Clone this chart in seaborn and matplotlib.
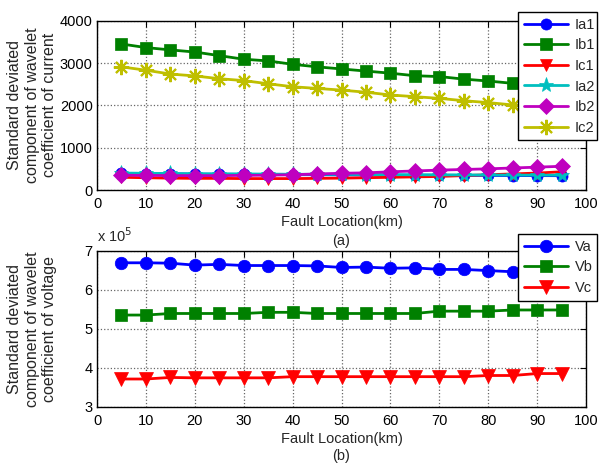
import numpy as np
import pandas as pd
import matplotlib
matplotlib.use("Agg")
import matplotlib.pyplot as plt
import seaborn as sns
from matplotlib.ticker import FuncFormatter

sns.set_theme(style="white")
plt.rcParams['font.family'] = ['Liberation Sans', 'DejaVu Sans']

# ---- data ----
location = [5, 10, 15, 20, 25, 30, 35, 40, 45, 50, 55, 60, 65, 70, 75, 80, 85, 90, 95]

Ia1 = [390, 385, 380, 375, 372, 370, 365, 362, 360, 358, 355, 352, 350, 348, 346, 344, 342, 340, 338]
Ib1 = [3450, 3365, 3310, 3260, 3175, 3090, 3050, 2970, 2910, 2860, 2810, 2760, 2700, 2680, 2620, 2575, 2520, 2480, 2440]
Ic1 = [300, 290, 280, 275, 275, 270, 270, 270, 275, 280, 290, 300, 310, 320, 340, 360, 380, 400, 430]
Ia2 = [400, 395, 390, 385, 382, 380, 376, 372, 370, 368, 365, 362, 360, 358, 356, 354, 352, 350, 350]
Ib2 = [350, 345, 340, 340, 340, 345, 350, 360, 380, 395, 405, 430, 450, 470, 485, 500, 520, 540, 560]
Ic2 = [2910, 2830, 2740, 2695, 2630, 2585, 2510, 2440, 2400, 2360, 2310, 2245, 2205, 2165, 2110, 2065, 2010, 1965, 1920]

Va = [669000, 669000, 668000, 663000, 665000, 662000, 662000, 662000, 661000, 657000, 658000, 655000, 656000, 652000, 652000, 649000, 646000, 644000, 642000]
Vb = [535000, 535000, 539000, 539000, 539000, 539000, 542000, 542000, 539000, 539000, 539000, 539000, 539000, 545000, 545000, 545000, 548000, 548000, 548000]
Vc = [371000, 371000, 375000, 374000, 374000, 374000, 374000, 377000, 377000, 377000, 377000, 377000, 377000, 377000, 377000, 380000, 380000, 385000, 385000]

current_labels = ["Ia1", "Ib1", "Ic1", "Ia2", "Ib2", "Ic2"]
voltage_labels = ["Va", "Vb", "Vc"]
top_xticklabels = ["0", "10", "20", "30", "40", "50", "60", "70", "8", "90", "100"]
bottom_xticklabels = ["0", "10", "20", "30", "40", "50", "60", "70", "80", "90", "100"]

# ---- styles ----
blue = (0, 0, 1)
green = (0, 0.5, 0)
red = (1, 0, 0)
cyan = (0, 0.75, 0.75)
magenta = (0.75, 0, 0.75)
olive = (0.75, 0.75, 0)
asterisk = (8, 2, 0)

cur_styles = {
    "Ia1": dict(color=blue, marker="o", ms=8),
    "Ib1": dict(color=green, marker="s", ms=8),
    "Ic1": dict(color=red, marker="v", ms=9),
    "Ia2": dict(color=cyan, marker="*", ms=11),
    "Ib2": dict(color=magenta, marker="D", ms=8),
    "Ic2": dict(color=olive, marker=asterisk, ms=11),
}
vol_styles = {
    "Va": dict(color=blue, marker="o", ms=9),
    "Vb": dict(color=green, marker="s", ms=9),
    "Vc": dict(color=red, marker="v", ms=10),
}

W, H = 601, 463
fig = plt.figure(figsize=(W / 100, H / 100), dpi=100)
fig.patch.set_facecolor("white")

def fx(px):
    return px / W

def fy(py):
    return 1 - py / H

left, right = 97, 586
ax1 = fig.add_axes([fx(left), fy(190), fx(right - left), (190 - 20.7) / H])
ax2 = fig.add_axes([fx(left), fy(406.7), fx(right - left), (406.7 - 250.7) / H])

cur_df = pd.DataFrame({"loc": location, "Ia1": Ia1, "Ib1": Ib1, "Ic1": Ic1,
                       "Ia2": Ia2, "Ib2": Ib2, "Ic2": Ic2})
vol_df = pd.DataFrame({"loc": location, "Va": Va, "Vb": Vb, "Vc": Vc})

def draw(ax, df, labels, styles):
    handles = []
    for lab in labels:
        st = styles[lab]
        sns.lineplot(data=df, x="loc", y=lab, ax=ax, color=st["color"],
                     marker=st["marker"], markersize=st["ms"],
                     markeredgecolor=st["color"], markerfacecolor=st["color"],
                     markeredgewidth=1.5 if st["marker"] == asterisk else 0.5,
                     linewidth=2, label=lab, legend=False, zorder=3)
        handles.append(ax.lines[-1])
    return handles

h1 = draw(ax1, cur_df, current_labels, cur_styles)
h2 = draw(ax2, vol_df, voltage_labels, vol_styles)

for ax in (ax1, ax2):
    ax.set_xlim(0, 100)
    ax.set_xticks(np.arange(0, 101, 10))
    ax.grid(True, color="#666666", linestyle=":", linewidth=0.9)
    ax.tick_params(direction="in", top=True, right=True, length=4, width=0.8,
                   labelsize=10.5, pad=3, colors="black")
    ax.tick_params(axis="x", pad=5)
    for s in ax.spines.values():
        s.set_color("black")
        s.set_linewidth(1.0)
    ax.set_facecolor("white")

ax1.set_ylim(0, 4000)
ax1.set_yticks(np.arange(0, 4001, 1000))
ax1.set_xticklabels(top_xticklabels)
ax2.set_ylim(3e5, 7e5)
ax2.set_yticks(np.arange(3e5, 7.01e5, 1e5))
ax2.yaxis.set_major_formatter(FuncFormatter(lambda v, p: f"{v / 1e5:.0f}"))
ax2.set_xticklabels(bottom_xticklabels)

ax1.set_xlabel("Fault Location(km)\n(a)", fontsize=10.5, labelpad=3, linespacing=1.45)
ax2.set_xlabel("Fault Location(km)\n(b)", fontsize=10.5, labelpad=3, linespacing=1.3)
ax1.set_ylabel("Standard deviated\ncomponent of wavelet\ncoefficient of current",
               fontsize=11.5, linespacing=1.2)
ax2.set_ylabel("Standard deviated\ncomponent of wavelet\ncoefficient of voltage",
               fontsize=11.5, linespacing=1.2)
lab_x = (57 - left) / (right - left)
ax1.yaxis.set_label_coords(lab_x, 0.5)
ax2.yaxis.set_label_coords(lab_x, 0.5)

fig.text(fx(97), fy(242), "x 10$^5$", fontsize=10.5, ha="left", va="baseline")

leg1 = fig.legend(h1, current_labels, loc="upper left",
                  bbox_to_anchor=(fx(518), fy(141), fx(597 - 518), (141 - 12) / H),
                  mode="expand", fontsize=10.5, frameon=True, fancybox=False,
                  edgecolor="black", handlelength=3.0, borderaxespad=0,
                  labelspacing=0.45, handletextpad=0.5, borderpad=0.4)
leg1.get_frame().set_linewidth(1.0)
leg1.get_frame().set_alpha(1)
leg2 = fig.legend(h2, voltage_labels, loc="upper left",
                  bbox_to_anchor=(fx(518), fy(303), fx(597 - 518), (303 - 234) / H),
                  mode="expand", fontsize=10.5, frameon=True, fancybox=False,
                  edgecolor="black", handlelength=3.0, borderaxespad=0,
                  labelspacing=0.45, handletextpad=0.5, borderpad=0.4)
leg2.get_frame().set_linewidth(1.0)
leg2.get_frame().set_alpha(1)

fig.savefig("out.png", dpi=100, facecolor="white")
